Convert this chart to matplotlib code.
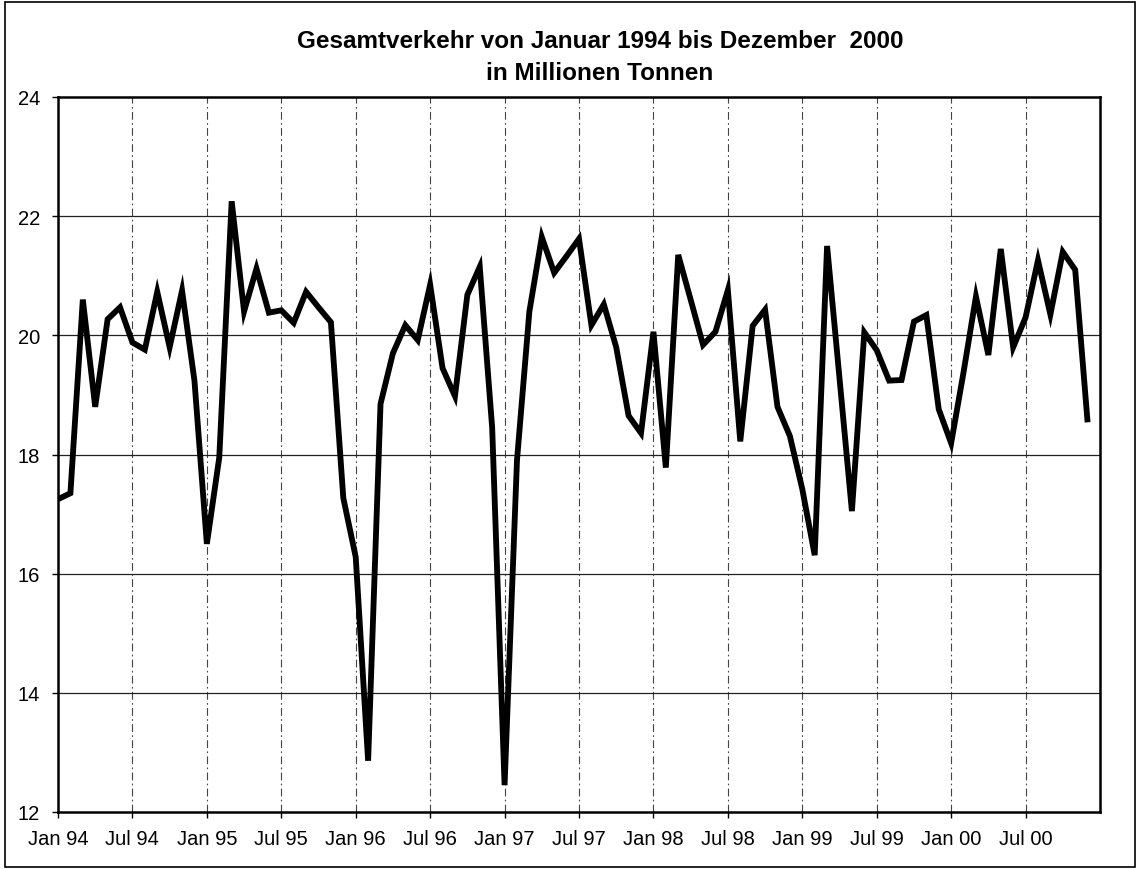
import matplotlib
matplotlib.use("Agg")
import matplotlib.pyplot as plt
from matplotlib.patches import Rectangle
import numpy as np

plt.rcParams['font.family'] = ['Liberation Sans', 'DejaVu Sans']

# monthly totals, Jan 1994 .. Dec 2000 (million tonnes)
values = [
    17.25, 17.35, 20.60, 18.80, 20.27, 20.47, 19.88, 19.76, 20.73, 19.80, 20.75, 19.24,  # 1994
    16.50, 17.95, 22.25, 20.40, 21.12, 20.38, 20.42, 20.21, 20.73, 20.47, 20.22, 17.27,  # 1995
    16.28, 12.86, 18.85, 19.70, 20.17, 19.92, 20.85, 19.45, 18.98, 20.68, 21.15, 18.45,  # 1996
    12.45, 17.90, 20.40, 21.65, 21.05, 21.33, 21.62, 20.17, 20.52, 19.80, 18.65, 18.36,  # 1997
    20.06, 17.78, 21.35, 20.60, 19.84, 20.06, 20.76, 18.22, 20.16, 20.43, 18.80, 18.31,  # 1998
    17.42, 16.31, 21.50, 19.28, 17.05, 20.05, 19.75, 19.24, 19.25, 20.23, 20.34, 18.76,  # 1999
    18.19, 19.38, 20.65, 19.67, 21.45, 19.80, 20.30, 21.26, 20.35, 21.40, 21.10, 18.54,  # 2000
]
months = np.arange(len(values))

tick_months = list(range(0, 84, 6))
tick_labels = ['Jan 94', 'Jul 94', 'Jan 95', 'Jul 95', 'Jan 96', 'Jul 96', 'Jan 97',
               'Jul 97', 'Jan 98', 'Jul 98', 'Jan 99', 'Jul 99', 'Jan 00', 'Jul 00']
y_ticks = [12, 14, 16, 18, 20, 22, 24]

title1 = 'Gesamtverkehr von Januar 1994 bis Dezember  2000'
title2 = 'in Millionen Tonnen'

fig = plt.figure(figsize=(11.37, 8.70), dpi=100)
ax = fig.add_axes([58 / 1137, 1 - 813 / 870, (1100 - 58) / 1137, (813 - 98) / 870])

# grid
for m in tick_months[1:]:
    ax.axvline(m, color='#444444', lw=0.8, ls=(0, (7, 3, 1.5, 3)), zorder=1)
for v in y_ticks[1:-1]:
    ax.axhline(v, color='#222222', lw=0.9, zorder=1)

ax.plot(months, values, color='black', lw=4.2, solid_joinstyle='miter',
        solid_capstyle='butt', zorder=3)

ax.set_xlim(0, 84)
ax.set_ylim(12, 24)
ax.set_xticks(tick_months)
ax.set_xticklabels(tick_labels)
ax.set_yticks(y_ticks)
ax.tick_params(axis='both', direction='out', length=4, width=1, labelsize=14.5)
ax.tick_params(axis='x', pad=8)
ax.tick_params(axis='y', pad=9)
for s in ax.spines.values():
    s.set_linewidth(1.8)
    s.set_color('black')

fig.text(600 / 1137, 1 - 42 / 870, title1, ha='center', va='center',
         fontsize=17.5, fontweight='bold')
fig.text(600 / 1137, 1 - 74 / 870, title2, ha='center', va='center',
         fontsize=17.5, fontweight='bold')

# outer frame of the chart area
fig.patches.append(Rectangle((0.004, 0.002), 0.994, 0.994, transform=fig.transFigure,
                             fill=False, edgecolor='black', lw=1.2))

fig.savefig('out.png', dpi=100)
